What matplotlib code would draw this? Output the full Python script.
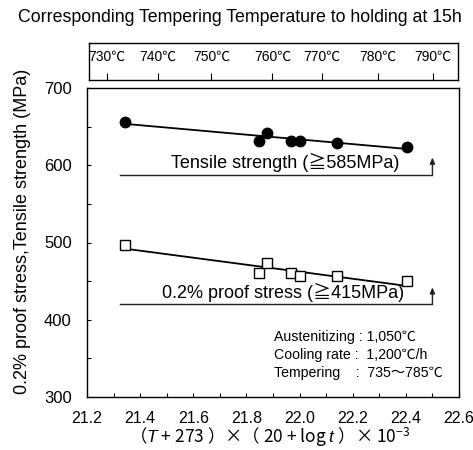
import matplotlib
matplotlib.use("Agg")
import matplotlib.pyplot as plt
import numpy as np
from matplotlib.ticker import MultipleLocator

plt.rcParams['font.family'] = ['Liberation Sans', 'Noto Sans CJK JP', 'DejaVu Sans']
plt.rcParams['mathtext.fontset'] = 'custom'
plt.rcParams['mathtext.it'] = 'Liberation Sans:italic'
plt.rcParams['mathtext.rm'] = 'Noto Sans CJK JP'

# ---- data ----
lmp_tensile = [21.343, 21.849, 21.877, 21.966, 22.001, 22.141, 22.406]
tensile = [656, 632, 642, 632, 632, 629, 624]
lmp_proof = [21.343, 21.849, 21.877, 21.966, 22.001, 22.141, 22.406]
proof = [497, 461, 473, 460, 457, 456, 450]
tensile_req = 588
proof_req = 420
req_x = [21.325, 22.50]
top_tick_pos = [21.2755, 21.468, 21.668, 21.898, 22.083, 22.294, 22.502]
top_tick_labels = ['730℃', '740℃', '750℃', '760℃', '770℃', '780℃', '790℃']

W, H = 473, 450
fig = plt.figure(figsize=(W / 100, H / 100), dpi=100)

def px_rect(l, t, r, b):
    return [l / W, 1 - b / H, (r - l) / W, (b - t) / H]

ax = fig.add_axes(px_rect(87, 88, 459, 397))
ax.set_xlim(21.2, 22.6)
ax.set_ylim(300, 700)

for s in ax.spines.values():
    s.set_linewidth(1.0)
    s.set_color('black')

ax.xaxis.set_major_locator(MultipleLocator(0.2))
ax.xaxis.set_minor_locator(MultipleLocator(0.1))
ax.yaxis.set_major_locator(MultipleLocator(100))
ax.yaxis.set_minor_locator(MultipleLocator(50))
ax.tick_params(which='both', direction='in', length=3, width=0.8,
               top=False, right=False)
ax.tick_params(axis='x', which='major', pad=10, labelsize=11.5)
ax.tick_params(axis='y', which='major', pad=11, labelsize=12)
ax.set_xticklabels([f"{v:.1f}" for v in ax.get_xticks()])

# data
ax.plot(lmp_tensile, tensile, 'o', color='black', ms=7.5, zorder=3)
ax.plot(lmp_proof, proof, 's', mfc='white', mec='black', mew=1.0, ms=7.5, zorder=3)

for xs, ys in ((lmp_tensile, tensile), (lmp_proof, proof)):
    k, b = np.polyfit(xs, ys, 1)
    xx = np.array([min(xs), max(xs)])
    ax.plot(xx, k * xx + b, color='black', lw=1.3, zorder=2)

# requirement lines with arrows
for yv in (tensile_req, proof_req):
    ax.plot(req_x, [yv, yv], color='#222222', lw=1.0)
    ax.annotate('', xy=(req_x[1], yv + 22), xytext=(req_x[1], yv),
                arrowprops=dict(arrowstyle='-|>,head_length=0.35,head_width=0.15',
                                color='#222222', lw=1.0, shrinkA=0, shrinkB=0))

ax.text(21.947, tensile_req + 3, 'Tensile strength (≧585MPa)', ha='center',
        va='bottom', fontsize=13)
ax.text(21.936, proof_req + 3, '0.2% proof stress (≧415MPa)', ha='center',
        va='bottom', fontsize=13)

ax.text(21.902, 378, 'Austenitizing : 1,050℃', ha='left', va='center', fontsize=10.2)
ax.text(21.902, 355, 'Cooling rate :  1,200℃/h', ha='left', va='center', fontsize=10.2)
ax.text(21.902, 331, 'Tempering    :  735～785℃', ha='left', va='center', fontsize=10.2)

# top temperature box
axt = fig.add_axes(px_rect(89, 43, 458, 80))
axt.set_xlim(21.2 + 2 / 265, 22.6 - 1 / 265)
axt.set_ylim(0, 1)
for s in axt.spines.values():
    s.set_linewidth(1.0)
axt.set_xticks(top_tick_pos)
axt.set_xticklabels([])
axt.set_yticks([])
axt.tick_params(axis='x', direction='in', length=5, width=0.8)
for xv, lab in zip(top_tick_pos, top_tick_labels):
    axt.text(xv, 0.62, lab, ha='center', va='center', fontsize=10)

fig.text(240 / W, 1 - 17 / H, 'Corresponding Tempering Temperature to holding at 15h',
         ha='center', va='center', fontsize=12.8)
fig.text(23 / W, 1 - 231 / H, '0.2% proof stress,Tensile strength (MPa)',
         rotation=90, ha='center', va='center', fontsize=13)
fig.text(270 / W, 1 - 437 / H, '（$T$ + 273 ）×（ 20 + log $t$ ）× 10$^{-3}$',
         ha='center', va='center', fontsize=12.5, family='Noto Sans CJK JP')

fig.savefig('out.png', dpi=100)
